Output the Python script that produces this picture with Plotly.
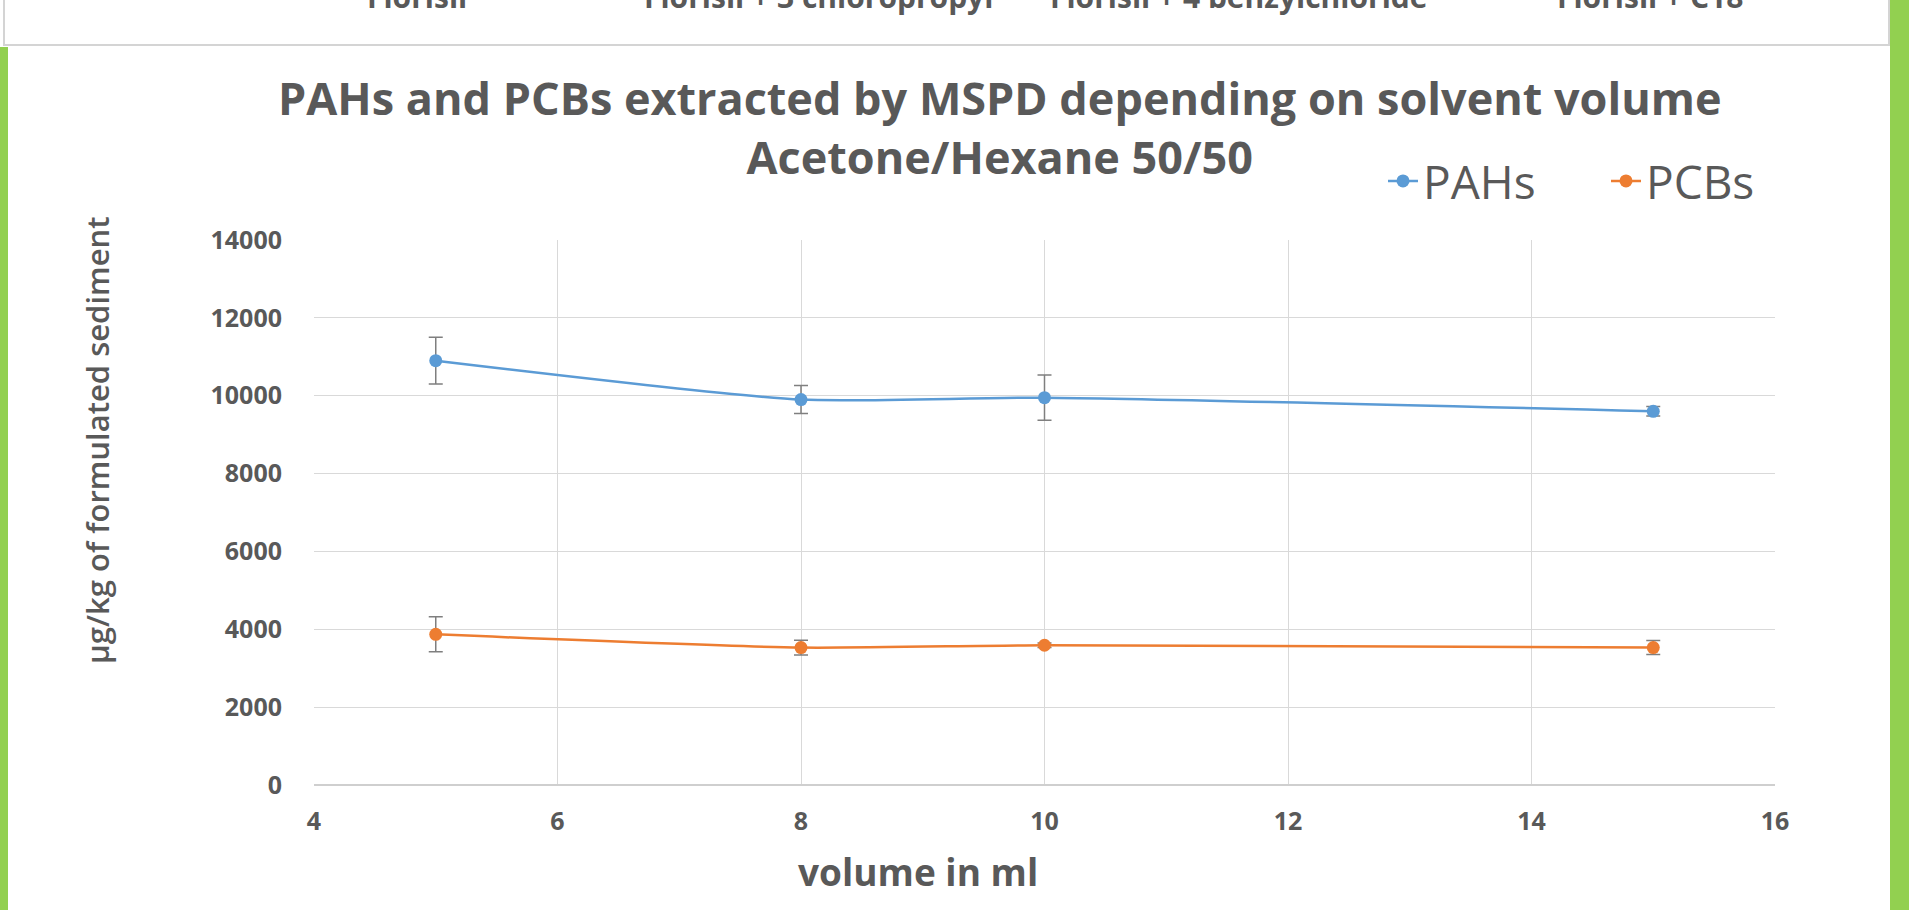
import plotly.graph_objects as go

# ---- data ----
volume_ml = [5, 8, 10, 15]
pahs = [10900, 9900, 9950, 9600]
pahs_err = [600, 360, 580, 120]
pcbs = [3870, 3530, 3590, 3530]
pcbs_err = [450, 190, 60, 180]
x_ticks = [4, 6, 8, 10, 12, 14, 16]
y_ticks = [0, 2000, 4000, 6000, 8000, 10000, 12000, 14000]
y_tick_labels = ["0", "2000", "4000", "6000", "8000", "10000", "12000", "14000"]
top_labels = ["Florisil", "Florisil + 3 chloropropyl", "Florisil + 4 benzylchloride", "Florisil + C18"]
top_label_px = [417, 818, 1239, 1650]
title_text = "PAHs and PCBs extracted by MSPD depending on solvent volume<br>Acetone/Hexane 50/50"

W, H = 1909, 910
L, R, T, B = 314, 1775, 240, 785
def px_x(p): return (p - L) / (R - L)
def px_y(p): return (B - p) / (B - T)

GRAY = "#595959"
BLUE = "#5B9BD5"
ORANGE = "#ED7D31"

fig = go.Figure()
fig.add_trace(go.Scatter(
    x=volume_ml, y=pahs, name="PAHs", mode="lines+markers",
    line=dict(color=BLUE, width=2.5, shape="spline", smoothing=0.6),
    marker=dict(color=BLUE, size=13),
    error_y=dict(type="data", array=pahs_err, color="#7F7F7F", thickness=1.5, width=7),
))
fig.add_trace(go.Scatter(
    x=volume_ml, y=pcbs, name="PCBs", mode="lines+markers",
    line=dict(color=ORANGE, width=2.5, shape="spline", smoothing=0.6),
    marker=dict(color=ORANGE, size=13),
    error_y=dict(type="data", array=pcbs_err, color="#7F7F7F", thickness=1.5, width=7),
))

annotations = [
    dict(text=title_text, x=px_x(1000), y=px_y(127), xref="paper", yref="paper", showarrow=False,
         xanchor="center", yanchor="middle",
         font=dict(family="Open Sans", size=45, color=GRAY, weight=700)),
    dict(text="volume in ml", x=px_x(918), y=px_y(871), xref="paper", yref="paper",
         showarrow=False, xanchor="center", yanchor="middle",
         font=dict(family="Open Sans", size=37, color=GRAY, weight=700)),
    dict(text="µg/kg of formulated sediment", x=px_x(97), y=px_y(441), xref="paper", yref="paper",
         showarrow=False, xanchor="center", yanchor="middle", textangle=-90,
         font=dict(family="Open Sans", size=31, color=GRAY, weight=600)),
]
for lab, p in zip(top_labels, top_label_px):
    annotations.append(dict(text=lab, x=px_x(p), y=px_y(-4), xref="paper", yref="paper",
                            showarrow=False, xanchor="center", yanchor="middle",
                            font=dict(family="Open Sans", size=30, color=GRAY, weight=700)))

shapes = [
    dict(type="rect", xref="paper", yref="paper", x0=px_x(4), x1=px_x(1889), y0=px_y(-5), y1=px_y(45),
         line=dict(color="#D4D4D4", width=2), fillcolor="white", layer="below"),
    dict(type="rect", xref="paper", yref="paper", x0=px_x(-2), x1=px_x(8), y0=px_y(47), y1=px_y(915),
         line=dict(width=0), fillcolor="#92D050"),
    dict(type="rect", xref="paper", yref="paper", x0=px_x(1890), x1=px_x(1915), y0=px_y(-5), y1=px_y(915),
         line=dict(width=0), fillcolor="#92D050"),
]

fig.update_layout(
    width=W, height=H,
    margin=dict(l=L, r=W - R, t=T, b=H - B, autoexpand=False),
    paper_bgcolor="white", plot_bgcolor="white",
    showlegend=True,
    legend=dict(orientation="h", x=px_x(1383), y=px_y(181), xanchor="left", yanchor="middle",
                font=dict(family="Open Sans", size=46, color=GRAY), bgcolor="rgba(0,0,0,0)",
                itemwidth=30, entrywidth=178, entrywidthmode="pixels"),
    annotations=annotations,
    shapes=shapes,
    xaxis=dict(range=[4, 16], tickvals=x_ticks, showgrid=True, gridcolor="#D9D9D9", gridwidth=1,
               zeroline=False, showline=False, ticks="", ticklabelstandoff=19,
               tickfont=dict(family="Open Sans", size=25, color=GRAY, weight=700)),
    yaxis=dict(range=[0, 14000], tickvals=y_ticks, ticktext=y_tick_labels, showgrid=True,
               gridcolor="#D9D9D9", gridwidth=1,
               zeroline=True, zerolinecolor="#CFCFCF", zerolinewidth=2, showline=False, ticks="",
               ticklabelstandoff=31,
               tickfont=dict(family="Open Sans", size=25, color=GRAY, weight=700)),
)

fig.write_html("out.html", config={"displayModeBar": False},
               post_script="document.body.style.margin='0';")
